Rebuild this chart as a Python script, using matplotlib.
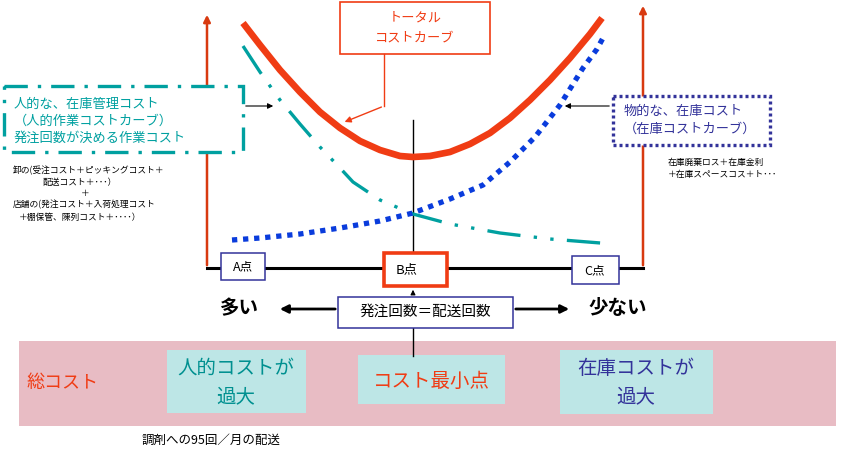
import numpy as np
import matplotlib
matplotlib.use("Agg")
import matplotlib.pyplot as plt
from matplotlib.patches import Rectangle

plt.rcParams['font.family'] = ['Noto Sans CJK JP', 'DejaVu Sans']

# curve data (diagram pixel space: x right, y down)
total_x = [243, 260, 280, 300, 320, 340, 360, 380, 400, 413, 430, 450, 470, 490, 510, 530, 550, 570, 590, 602]
total_y = [23, 45, 70, 92, 112, 128, 141, 150, 156, 157, 156, 152, 144, 133, 118, 100, 80, 58, 34, 18]

human_x = [243, 260, 280, 300, 320, 340, 353, 380, 413, 450, 500, 550, 613]
human_y = [46, 72, 100, 124, 147, 168, 182, 200, 214, 224, 233, 239, 244]

stock_x = [232, 260, 300, 340, 380, 413, 450, 483, 510, 535, 560, 583, 597, 603]
stock_y = [240, 238, 234, 228, 221, 213, 199, 185, 162, 137, 105, 68, 49, 38]

points = ["A点", "B点", "C点"]
left_notes = ["卸の(受注コスト＋ピッキングコスト＋", "配送コスト＋･･･）", "＋",
              "店舗の(発注コスト＋入荷処理コスト", "＋棚保管、陳列コスト＋････）"]
right_notes = ["在庫廃棄ロス＋在庫金利", "＋在庫スペースコス＋ト･･･"]

RED = '#f03c14'
AXRED = '#d83a10'
TEAL = '#00a0a0'
NAVY = '#33339a'
BLUE = '#0a3cdc'

fig = plt.figure(figsize=(8.53, 4.51), dpi=100)
ax = fig.add_axes([0, 0, 1, 1])
ax.set_xlim(0, 853)
ax.set_ylim(451, 0)
ax.axis('off')

# axes of the diagram
ax.plot([207, 643], [268, 268], color='black', lw=2.2, zorder=2)
ax.annotate('', xy=(207, 12), xytext=(207, 268),
            arrowprops=dict(arrowstyle='-|>', color=AXRED, lw=1.8, mutation_scale=10), zorder=3)
ax.annotate('', xy=(643, 3), xytext=(643, 268),
            arrowprops=dict(arrowstyle='-|>', color=AXRED, lw=1.8, mutation_scale=10), zorder=3)
ax.plot([413, 413], [120, 254], color='black', lw=1, zorder=2)

# curves
ax.plot(human_x, human_y, color=TEAL, lw=2.4, dashes=(10, 4, 1, 4, 1, 4), zorder=4)
ax.plot(stock_x, stock_y, color=BLUE, lw=3.8, dashes=(1, 1.1), zorder=4)
ax.plot(total_x, total_y, color=RED, lw=4.8, solid_capstyle='butt', zorder=5)

# total curve callout
ax.add_patch(Rectangle((340, 2), 150, 52, fill=True, fc='white', ec=RED, lw=1.2, zorder=6))
ax.text(415, 18, "トータル", color=RED, fontsize=9.5, ha='center', va='center', zorder=7)
ax.text(415, 38, "コストカーブ", color=RED, fontsize=9.5, ha='center', va='center', zorder=7)
ax.plot([384, 384], [54, 106], color=RED, lw=1, zorder=6)
ax.annotate('', xy=(342, 123), xytext=(384, 106),
            arrowprops=dict(arrowstyle='-|>', color=RED, lw=1, mutation_scale=9), zorder=6)

# human cost box
ax.add_patch(Rectangle((4, 86), 239, 66, fill=True, fc='white', ec=TEAL, lw=2.4,
                       linestyle=(0, (7, 3, 1, 3)), zorder=6))
for i, line in enumerate(["人的な、在庫管理コスト", "（人的作業コストカーブ）", "発注回数が決める作業コスト"]):
    ax.text(14, 104 + i * 17, line, color=TEAL, fontsize=9.5, ha='left', va='center', zorder=7)
ax.annotate('', xy=(276, 106), xytext=(243, 106),
            arrowprops=dict(arrowstyle='-|>', color='black', lw=0.8, mutation_scale=8), zorder=6)

# stock cost box
ax.add_patch(Rectangle((613, 96), 157, 49, fill=True, fc='white', ec=NAVY, lw=2.4,
                       linestyle=(0, (0.9, 0.9)), zorder=6))
ax.text(624, 111, "物的な、在庫コスト", color=NAVY, fontsize=9.5, ha='left', va='center', zorder=7)
ax.text(624, 129, "（在庫コストカーブ）", color=NAVY, fontsize=9.5, ha='left', va='center', zorder=7)
ax.annotate('', xy=(562, 106), xytext=(612, 106),
            arrowprops=dict(arrowstyle='-|>', color='black', lw=0.8, mutation_scale=8), zorder=6)

# small notes
note_pos = [(13, 171, 'left'), (80, 182, 'center'), (85, 193, 'center'),
            (13, 205, 'left'), (80, 217, 'center')]
for (x, y, ha), t in zip(note_pos, left_notes):
    ax.text(x, y, t, fontsize=6.3, ha=ha, va='center')
ax.text(668, 162, right_notes[0], fontsize=6.3, ha='left', va='center')
ax.text(668, 174, right_notes[1], fontsize=6.3, ha='left', va='center')

# point boxes on the axis
ax.add_patch(Rectangle((221, 253), 44, 27, fc='white', ec=NAVY, lw=1.1, zorder=6))
ax.text(243, 267, points[0], fontsize=9, ha='center', va='center', zorder=7)
ax.add_patch(Rectangle((384, 253), 63, 33, fc='white', ec=RED, lw=2.6, zorder=6))
ax.text(407, 270, points[1], fontsize=9.5, ha='center', va='center', zorder=7)
ax.add_patch(Rectangle((572, 256), 47, 28, fc='white', ec=NAVY, lw=1.1, zorder=6))
ax.text(595, 271, points[2], fontsize=9, ha='center', va='center', zorder=7)

# order count box and arrows
ax.add_patch(Rectangle((338, 297), 175, 31, fc='white', ec=NAVY, lw=1.1, zorder=6))
ax.text(425, 312, "発注回数＝配送回数", fontsize=10.5, ha='center', va='center', zorder=7)
ax.annotate('', xy=(277, 309), xytext=(338, 309),
            arrowprops=dict(arrowstyle='-|>', color='black', lw=2, mutation_scale=12), zorder=6)
ax.annotate('', xy=(572, 309), xytext=(513, 309),
            arrowprops=dict(arrowstyle='-|>', color='black', lw=2, mutation_scale=12), zorder=6)
ax.annotate('', xy=(413, 287), xytext=(413, 297),
            arrowprops=dict(arrowstyle='-|>', color='black', lw=0.8, mutation_scale=7), zorder=6)
ax.text(239, 309, "多い", fontsize=14, fontweight='bold', ha='center', va='center')
ax.text(618, 309, "少ない", fontsize=14, fontweight='bold', ha='center', va='center')

# pink band at the bottom
ax.add_patch(Rectangle((19, 341), 817, 85, fc='#e8bcc4', ec='none', zorder=1))
ax.plot([413, 413], [328, 356], color='black', lw=1, zorder=3)
ax.text(27, 383, "総コスト", color=RED, fontsize=13, ha='left', va='center', zorder=7)

CYAN = '#bde6e6'
ax.add_patch(Rectangle((167, 350), 139, 63, fc=CYAN, ec='none', zorder=2))
ax.text(236, 368, "人的コストが", color='#009090', fontsize=14, ha='center', va='center', zorder=7)
ax.text(236, 397, "過大", color='#009090', fontsize=14, ha='center', va='center', zorder=7)
ax.add_patch(Rectangle((358, 355), 147, 49, fc=CYAN, ec='none', zorder=2))
ax.text(431, 381, "コスト最小点", color=RED, fontsize=14, ha='center', va='center', zorder=7)
ax.add_patch(Rectangle((560, 350), 153, 64, fc=CYAN, ec='none', zorder=2))
ax.text(636, 368, "在庫コストが", color=NAVY, fontsize=14, ha='center', va='center', zorder=7)
ax.text(636, 397, "過大", color=NAVY, fontsize=14, ha='center', va='center', zorder=7)

ax.text(142, 440, "調剤への95回／月の配送", fontsize=9, ha='left', va='center')

fig.savefig('out.png', dpi=100)
